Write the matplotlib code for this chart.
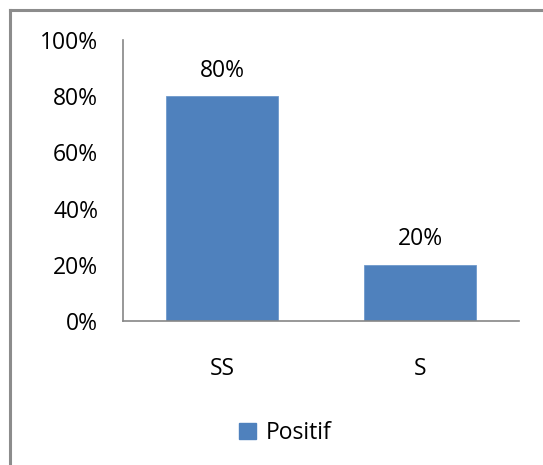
import matplotlib
matplotlib.use("Agg")
import matplotlib.pyplot as plt
from matplotlib.lines import Line2D
from matplotlib.patches import Patch

# datos
categorias = ["SS", "S"]
positif = [0.80, 0.20]
etiquetas = ["80%", "20%"]
yticks = [0, 0.2, 0.4, 0.6, 0.8, 1.0]
ytick_labels = ["0%", "20%", "40%", "60%", "80%", "100%"]

AZUL = "#4F81BD"
GRIS = "#868686"

plt.rcParams["font.family"] = ["Open Sans", "DejaVu Sans"]

W, H = 543, 465
fig = plt.figure(figsize=(W / 100, H / 100), dpi=100)
fig.patch.set_facecolor("white")

# marco (solo arriba e izquierda, imagen recortada)
fig.add_artist(Line2D([9.5 / W, 1], [1 - 10 / H, 1 - 10 / H], transform=fig.transFigure,
                      color="#8c8c8c", lw=2.2))
fig.add_artist(Line2D([9.5 / W, 9.5 / W], [0, 1 - 10 / H], transform=fig.transFigure,
                      color="#8c8c8c", lw=2.2))

ax = fig.add_axes([123 / W, 1 - 321 / H, (519 - 123) / W, (321 - 40) / H])
x = range(len(categorias))
bars = ax.bar(x, positif, width=0.57, color=AZUL, edgecolor="#6f99cc", linewidth=0.6,
              label="Positif", zorder=2)

for b, lab in zip(bars, etiquetas):
    ax.annotate(lab, (b.get_x() + b.get_width() / 2, b.get_height()),
                xytext=(0, 14), textcoords="offset points",
                ha="center", va="baseline", fontsize=16.5, color="black")

ax.set_xlim(-0.5, 1.5)
ax.set_ylim(0, 1)
ax.set_yticks(yticks)
ax.set_yticklabels(ytick_labels)
ax.set_xticks(list(x))
ax.set_xticklabels(categorias)
ax.tick_params(axis="y", length=0, pad=18, labelsize=16.5)
ax.tick_params(axis="x", length=0, pad=26, labelsize=16.5)

for s in ["top", "right"]:
    ax.spines[s].set_visible(False)
for s in ["left", "bottom"]:
    ax.spines[s].set_color(GRIS)
    ax.spines[s].set_linewidth(1.2)

fig.legend(handles=[Patch(facecolor=AZUL, edgecolor=AZUL, label="Positif")],
           loc="center", bbox_to_anchor=(285 / W, 1 - 433 / H), frameon=False,
           fontsize=16.5, handlelength=0.75, handleheight=0.75, handletextpad=0.4)

fig.savefig("out.png", dpi=100)
